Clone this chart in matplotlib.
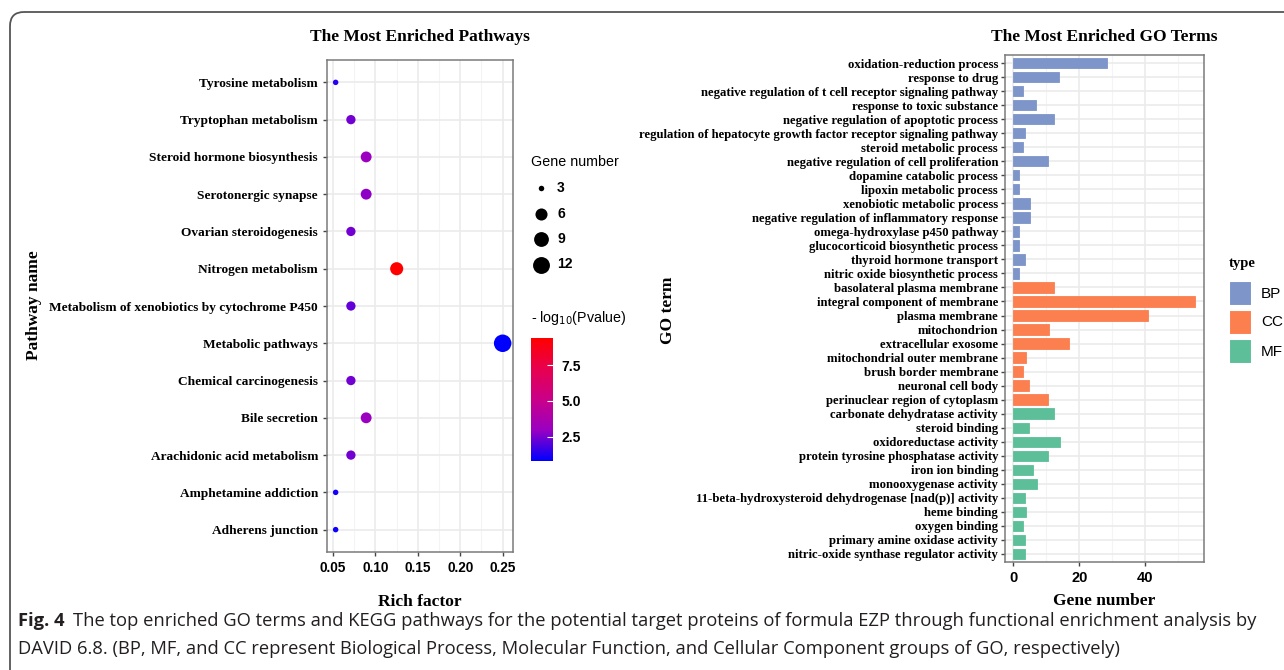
import numpy as np
import matplotlib.pyplot as plt
from matplotlib.colors import LinearSegmentedColormap
from matplotlib.patches import FancyBboxPatch, Rectangle

# KEGG pathways (top to bottom)
pathways = ['Tyrosine metabolism', 'Tryptophan metabolism', 'Steroid hormone biosynthesis',
            'Serotonergic synapse', 'Ovarian steroidogenesis', 'Nitrogen metabolism',
            'Metabolism of xenobiotics by cytochrome P450', 'Metabolic pathways',
            'Chemical carcinogenesis', 'Bile secretion', 'Arachidonic acid metabolism',
            'Amphetamine addiction', 'Adherens junction']
rich_factor = [0.053, 0.071, 0.089, 0.089, 0.071, 0.125, 0.071, 0.25, 0.071, 0.089, 0.071, 0.053, 0.053]
gene_count = [3, 4, 5, 5, 4, 7, 4, 13, 4, 5, 4, 3, 3]
neg_log_p = [1.4, 2.4, 3.0, 2.8, 2.4, 9.4, 2.2, 0.8, 2.4, 3.0, 2.4, 1.1, 1.0]
size_breaks = [3, 6, 9, 12]
cbar_ticks = [2.5, 5.0, 7.5]

# GO terms (top to bottom)
go_terms = ['oxidation-reduction process', 'response to drug',
            'negative regulation of t cell receptor signaling pathway', 'response to toxic substance',
            'negative regulation of apoptotic process',
            'regulation of hepatocyte growth factor receptor signaling pathway',
            'steroid metabolic process', 'negative regulation of cell proliferation',
            'dopamine catabolic process', 'lipoxin metabolic process', 'xenobiotic metabolic process',
            'negative regulation of inflammatory response', 'omega-hydroxylase p450 pathway',
            'glucocorticoid biosynthetic process', 'thyroid hormone transport',
            'nitric oxide biosynthetic process',
            'basolateral plasma membrane', 'integral component of membrane', 'plasma membrane',
            'mitochondrion', 'extracellular exosome', 'mitochondrial outer membrane',
            'brush border membrane', 'neuronal cell body', 'perinuclear region of cytoplasm',
            'carbonate dehydratase activity', 'steroid binding', 'oxidoreductase activity',
            'protein tyrosine phosphatase activity', 'iron ion binding', 'monooxygenase activity',
            '11-beta-hydroxysteroid dehydrogenase [nad(p)] activity', 'heme binding',
            'oxygen binding', 'primary amine oxidase activity',
            'nitric-oxide synthase regulator activity']
go_counts = [28.5, 14, 3, 7, 12.4, 3.5, 3, 10.6, 1.8, 1.8, 5.2, 5.2, 1.8, 1.8, 3.5, 1.8,
             12.4, 55.2, 40.9, 10.9, 16.9, 3.8, 3.0, 4.8, 10.6,
             12.4, 4.8, 14.1, 10.6, 5.9, 7.1, 3.5, 4.0, 3.0, 3.5, 3.5]
go_types = ['BP'] * 16 + ['CC'] * 9 + ['MF'] * 11
type_names = ['BP', 'CC', 'MF']
type_colors = {'BP': '#7d95c9', 'CC': '#fc7f4f', 'MF': '#5cbf99'}

W, H = 1284, 670
SERIF = 'Liberation Serif'
SANS = 'Liberation Sans'
GRID = '#ebebeb'
SPINE = '#7a7a7a'

# blue -> red through Lab-like purples
cmap = LinearSegmentedColormap.from_list(
    'bluered', ['#0000ff', '#9a00c2', '#ca0089', '#e8004f', '#ff0000'])
vmin, vmax = min(neg_log_p), max(neg_log_p)

cmin, cmax = min(gene_count), max(gene_count)


def dot_size(n):
    # area scale similar to ggplot's scale_size (diameter in px -> pt^2)
    d = 5.5 + 12 * np.sqrt((np.asarray(n, float) - cmin) / (cmax - cmin))
    return (d * 0.72) ** 2


fig = plt.figure(figsize=(W / 100, H / 100), dpi=100)


def fbox(x0, y0, x1, y1):
    return [x0 / W, 1 - y1 / H, (x1 - x0) / W, (y1 - y0) / H]


def style_axes(ax):
    for s in ax.spines.values():
        s.set_color(SPINE)
        s.set_linewidth(1.1)
    ax.tick_params(length=3, width=1, color='#444444')
    ax.set_axisbelow(True)


# ---- left: dot plot of pathways ----
ax1 = fig.add_axes(fbox(327, 60, 513, 552))
ypos = np.arange(len(pathways))[::-1]
ax1.scatter(rich_factor, ypos, s=dot_size(gene_count), c=neg_log_p, cmap=cmap,
            vmin=vmin, vmax=vmax, linewidths=0, zorder=3)
ax1.set_xlim(0.0428, 0.2622)
ax1.set_ylim(-0.6, len(pathways) - 0.4)
ax1.set_xticks([0.05, 0.10, 0.15, 0.20, 0.25])
ax1.set_xticklabels(['0.05', '0.10', '0.15', '0.20', '0.25'])
ax1.set_xticks([0.075, 0.125, 0.175, 0.225], minor=True)
ax1.set_yticks(ypos)
ax1.set_yticklabels(pathways, fontfamily=SERIF, fontweight='bold', fontsize=9.6)
for lab in ax1.get_xticklabels():
    lab.set_fontfamily(SANS)
    lab.set_fontweight('bold')
    lab.set_fontsize(9.8)
ax1.tick_params(axis='x', which='minor', length=0)
ax1.grid(which='major', color=GRID, lw=1.2)
ax1.grid(which='minor', axis='x', color='#f4f4f4', lw=0.8)
style_axes(ax1)
ax1.set_title('The Most Enriched Pathways', fontfamily=SERIF, fontweight='bold',
              fontsize=12.5, pad=14)
ax1.set_xlabel('Rich factor', fontfamily=SERIF, fontweight='bold', fontsize=12.5, labelpad=14)

# colour bar
cax = fig.add_axes(fbox(531, 338, 553, 461))
grad = np.linspace(vmin, vmax, 256).reshape(-1, 1)
cax.imshow(grad, aspect='auto', origin='lower', cmap=cmap,
           extent=[0, 1, vmin, vmax])
cax.set_xticks([])
cax.yaxis.tick_right()
cax.set_yticks(cbar_ticks)
cax.set_yticklabels(['%.1f' % t for t in cbar_ticks], fontfamily=SANS,
                    fontweight='bold', fontsize=10)
cax.tick_params(axis='y', direction='in', color='white', length=4, width=0.8, pad=6)
for s in cax.spines.values():
    s.set_visible(False)

# ---- right: bar chart of GO terms ----
ax2 = fig.add_axes(fbox(1005, 55, 1204, 562))
gpos = np.arange(len(go_terms))[::-1]
ax2.barh(gpos, go_counts, height=0.72, color=[type_colors[t] for t in go_types],
         edgecolor=[type_colors[t] for t in go_types], linewidth=0.6, zorder=3)
ax2.set_xlim(-2.5, 57.8)
ax2.set_ylim(-0.6, len(go_terms) - 0.4)
ax2.set_xticks([0, 20, 40])
ax2.set_xticks([10, 30, 50], minor=True)
ax2.set_yticks(gpos)
ax2.set_yticklabels(go_terms, fontfamily=SERIF, fontweight='bold', fontsize=9.2)
for lab in ax2.get_xticklabels():
    lab.set_fontfamily(SANS)
    lab.set_fontweight('bold')
    lab.set_fontsize(10.5)
ax2.tick_params(axis='x', which='minor', length=0)
ax2.tick_params(axis='y', pad=2)
ax2.grid(which='major', color=GRID, lw=1.2)
ax2.grid(which='minor', axis='x', color='#f4f4f4', lw=0.8)
style_axes(ax2)
ax2.set_title('The Most Enriched GO Terms', fontfamily=SERIF, fontweight='bold',
              fontsize=12.5, pad=10)
ax2.set_xlabel('Gene number', fontfamily=SERIF, fontweight='bold', fontsize=12.5, labelpad=6)

# ---- overlay in pixel coordinates: axis titles, legends, frame, caption ----
ov = fig.add_axes([0, 0, 1, 1])
ov.set_xlim(0, W)
ov.set_ylim(H, 0)
ov.axis('off')

ov.text(34, 305, 'Pathway name', fontfamily=SERIF, fontweight='bold', fontsize=12.5,
        rotation=90, ha='center', va='center')
ov.text(668, 310, 'GO term', fontfamily=SERIF, fontweight='bold', fontsize=12.5,
        rotation=90, ha='center', va='center')

ov.text(531, 162, 'Gene number', fontfamily=SANS, fontsize=10.3, va='center')
for i, n in enumerate(size_breaks):
    yy = 188 + i * 25.5
    ov.scatter([541], [yy], s=dot_size(n), color='black', linewidths=0)
    ov.text(557, yy, str(n), fontfamily=SANS, fontweight='bold', fontsize=10, va='center')

ov.text(531, 318, r'- log$_{10}$(Pvalue)', fontfamily=SANS, fontsize=10.3, va='center')

ov.text(1229, 263, 'type', fontfamily=SERIF, fontweight='bold', fontsize=10.5, va='center')
for i, t in enumerate(type_names):
    y0 = 281 + i * 29
    ov.add_patch(Rectangle((1229, y0), 23, 25, facecolor=type_colors[t],
                           edgecolor='white', lw=1.5))
    ov.text(1261, y0 + 12.5, t, fontfamily=SANS, fontsize=11, va='center')

ov.add_patch(FancyBboxPatch((10, 12), W + 40, H + 40,
                            boxstyle='round,pad=0,rounding_size=14',
                            facecolor='none', edgecolor='#555555', lw=1.3,
                            clip_on=False))

cap_font = 'Open Sans'
fig_lbl = ov.text(18, 621, 'Fig. 4', fontfamily=cap_font, fontweight='bold',
                  fontsize=13.2, color='#231f20', va='center')
ov.annotate('The top enriched GO terms and KEGG pathways for the potential target proteins '
            'of formula EZP through functional enrichment analysis by',
            xy=(1, 0.5), xycoords=fig_lbl, xytext=(6, 0), textcoords='offset points',
            fontfamily=cap_font, fontsize=13.2, color='#231f20', va='center')
ov.text(18, 649, 'DAVID 6.8. (BP, MF, and CC represent Biological Process, Molecular Function, '
        'and Cellular Component groups of GO, respectively)',
        fontfamily=cap_font, fontsize=13.2, color='#231f20', va='center')

fig.savefig('out.png', dpi=100)
